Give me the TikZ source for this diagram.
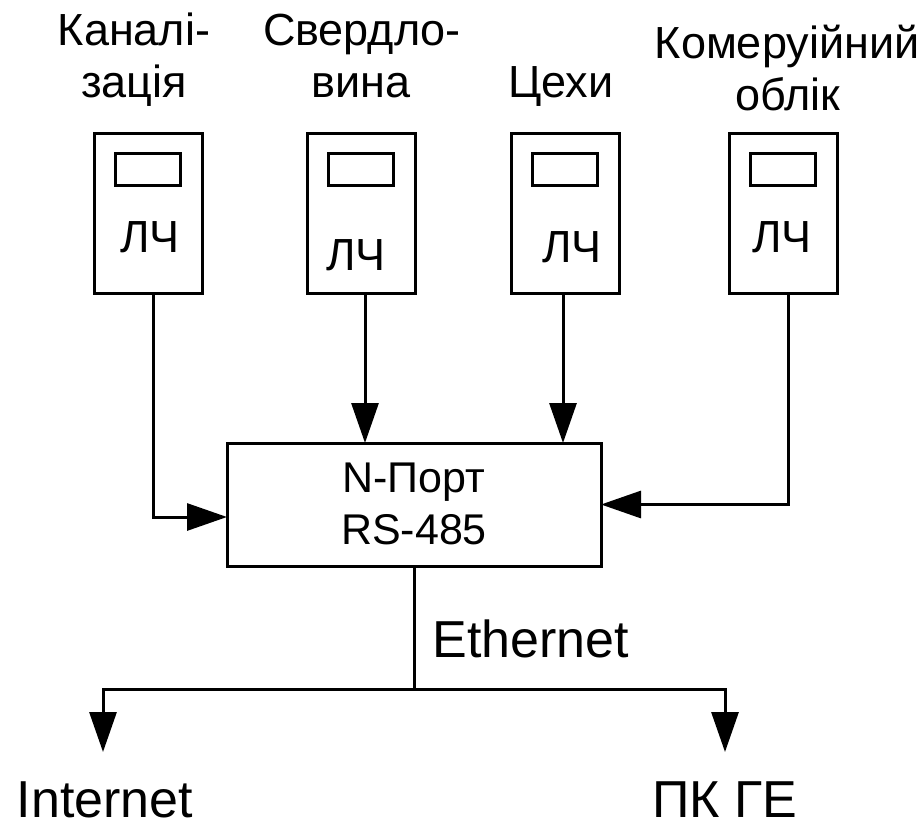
\documentclass[tikz,border=0pt]{standalone}
\usepackage{fontspec}
\setmainfont{Liberation Sans}
\usetikzlibrary{arrows.meta}
\begin{document}
\begin{tikzpicture}[x=1pt,y=-1pt,
  every node/.style={inner sep=0pt,outer sep=0pt},
  meter/.style={draw,line width=3pt,minimum width=108pt,minimum height=160pt},
  disp/.style={draw,line width=3pt,minimum width=65pt,minimum height=32pt},
  npbox/.style={draw,line width=3pt,minimum width=374pt,minimum height=123pt},
  lbl/.style={anchor=base,font=\fontsize{45}{50}\selectfont},
  nplbl/.style={anchor=base,font=\fontsize{43}{48}\selectfont},
  biglbl/.style={anchor=base,font=\fontsize{52}{58}\selectfont},
  wire/.style={line width=3pt},
  conn/.style={line width=3pt,-{Triangle[length=40pt,width=27pt]}}]
\useasboundingbox (0,0) rectangle (923,822);
% labels on top
\node[lbl] (c1a) at (134,45) {Каналі-};
\node[lbl] (c1b) at (134,97) {зація};
\node[lbl] (c2a) at (362,45) {Свердло-};
\node[lbl] (c2b) at (361,97) {вина};
\node[lbl] (c3a) at (561,97) {Цехи};
\node[lbl] (c4a) at (787,58) {Комеруійний};
\node[lbl] (c4b) at (788,110) {облік};
% meters
\node[meter] (m1) at (148,213) {};
\node[meter] (m2) at (361.5,213) {};
\node[meter] (m3) at (565.5,213) {};
\node[meter] (m4) at (783,213) {};
\node[disp] (d1) at (147.5,169) {};
\node[disp] (d2) at (360.5,169) {};
\node[disp] (d3) at (565,169) {};
\node[disp] (d4) at (782.5,169) {};
\node[lbl] (l1) at (150,252) {ЛЧ};
\node[lbl] (l2) at (356,270) {ЛЧ};
\node[lbl] (l3) at (572,262) {ЛЧ};
\node[lbl] (l4) at (782,252) {ЛЧ};
% N-port
\node[npbox] (np) at (414,504.5) {};
\node[nplbl] (np1) at (414,492) {N-Порт};
\node[nplbl] (np2) at (414,544) {RS-485};
% connectors
\draw[conn] (m1.south -| 153,0) |- (np.west |- 0,517);
\draw[conn] (m2.south -| 365,0) -- (np.north -| 365,0);
\draw[conn] (m3.south -| 563,0) -- (np.north -| 563,0);
\draw[conn] (m4.south -| 788,0) |- (np.east);
% Ethernet
\coordinate (jn) at (414,689);
\coordinate (t1) at (103,752);
\coordinate (t2) at (725,752);
\draw[wire] (np.south) -- (jn);
\draw[conn] (jn) -| (t1);
\draw[conn] (jn) -| (t2);
\node[biglbl] (eth) at (531,657) {Ethernet};
\node[biglbl] (inet) at (105,817) {Internet};
\node[biglbl] (pc) at (725,817) {ПК ГЕ};
\end{tikzpicture}
\end{document}
